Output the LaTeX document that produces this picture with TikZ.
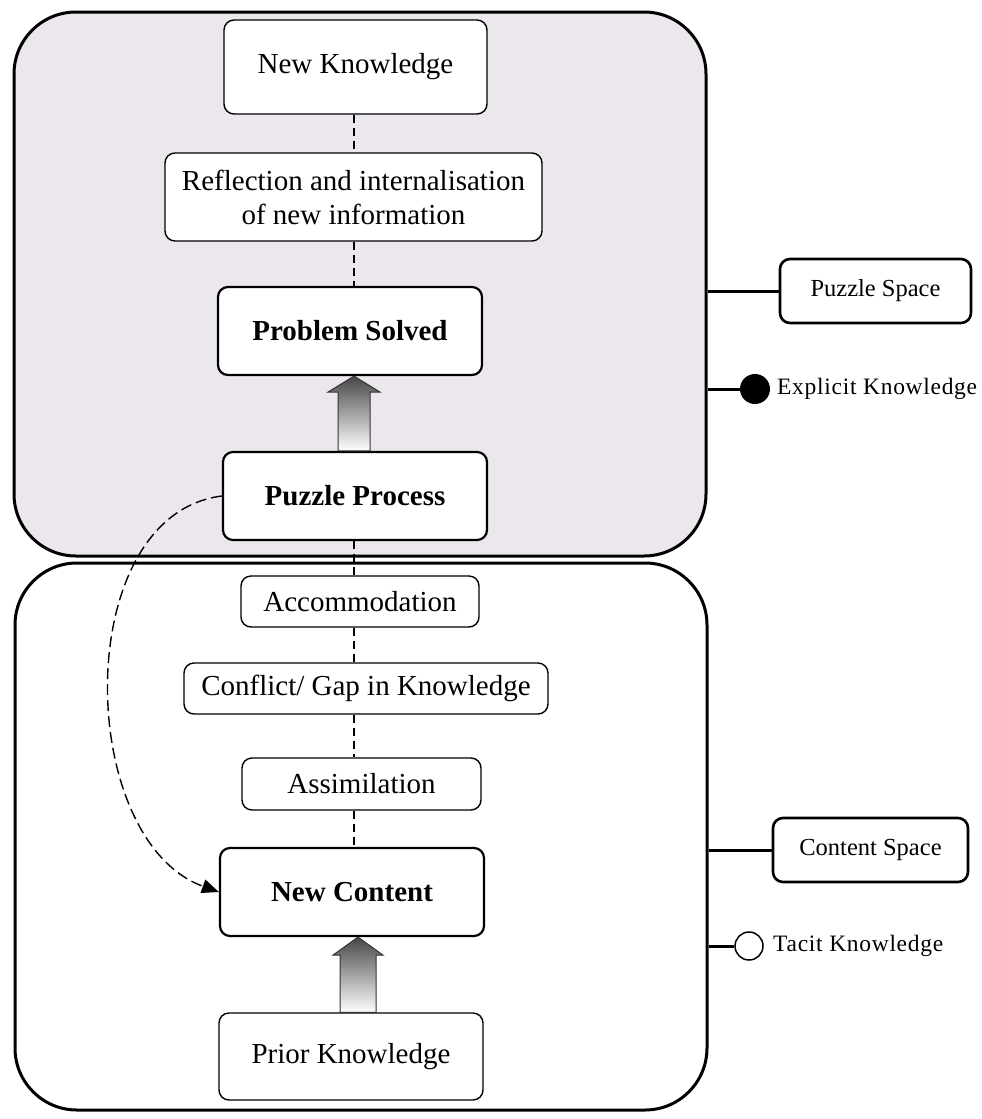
\documentclass[tikz,border=0pt]{standalone}
\usepackage{fontspec}
\setmainfont{Liberation Serif}
\newfontfamily\spacedfont[LetterSpace=3]{Liberation Serif}
\usetikzlibrary{calc,arrows.meta}
\definecolor{puzzlebg}{RGB}{235,231,237}
\newcommand\liftarrow[6]{%
  \path[liftshade] ($(#1 -| #6)+(-#3,0)$) -- ($(#2 -| #6)+(-#3,#5)$) -- ($(#2 -| #6)+(-#4,#5)$) -- (#2 -| #6) -- ($(#2 -| #6)+(#4,#5)$) -- ($(#2 -| #6)+(#3,#5)$) -- ($(#1 -| #6)+(#3,0)$) -- cycle;}
\begin{document}
\begin{tikzpicture}[x=1pt,y=-1pt,
  spacebox/.style={draw, line width=3pt, rounded corners=62pt, inner sep=0pt},
  stage/.style={draw, fill=white, line width=1.4pt, rounded corners=10pt, align=center, inner sep=0pt, font=\fontsize{29}{34}\selectfont},
  keystage/.style={stage, line width=2.2pt, font=\fontsize{29}{34}\selectfont\bfseries},
  legendbox/.style={draw, fill=white, line width=2.6pt, rounded corners=10pt, inner sep=0pt, font=\fontsize{24.5}{28}\selectfont},
  legendtext/.style={anchor=west, inner sep=0pt, font=\fontsize{23.5}{27}\spacedfont},
  link/.style={line width=1.4pt, dash pattern=on 8pt off 5pt},
  curvelink/.style={line width=1.4pt, dash pattern=on 11pt off 5pt},
  legendline/.style={line width=3pt},
  liftshade/.style={draw=black!80, line width=1pt, top color=black!72, bottom color=white}
]
\useasboundingbox (0,0) rectangle (982,1119);
\coordinate (spine) at (354,0);
\coordinate (spineb) at (358,0);

% spaces
\node[spacebox, fill=puzzlebg, minimum width=692pt, minimum height=544pt] (puzzle) at (360,284) {};
\node[spacebox, fill=white, minimum width=692pt, minimum height=547pt] (content) at (361,836.5) {};

% stages
\node[stage, minimum width=263pt, minimum height=94pt] (nk) at (355.5,67) {New Knowledge};
\node[stage, minimum width=377pt, minimum height=88pt] (refl) at (353.5,197) {Reflection and internalisation\\of new information};
\node[keystage, minimum width=264pt, minimum height=88pt] (psolv) at (350,331) {Problem Solved};
\node[keystage, minimum width=264pt, minimum height=88pt] (pp) at (355,496) {Puzzle Process};
\node[stage, minimum width=238pt, minimum height=51pt] (acc) at (360,601.5) {Accommodation};
\node[stage, minimum width=364pt, minimum height=51pt] (conf) at (366,688.5) {Conflict/ Gap in Knowledge};
\node[stage, minimum width=239pt, minimum height=52pt] (assim) at (361.5,784) {Assimilation};
\node[keystage, minimum width=264pt, minimum height=88pt] (nc) at (352,892) {New Content};
\node[stage, minimum width=264pt, minimum height=87pt] (prior) at (351,1056.5) {Prior Knowledge};

% dashed links
\draw[link] (nk.south -| spine) -- (refl.north -| spine);
\draw[link] (refl.south -| spine) -- (psolv.north -| spine);
\draw[link] (pp.south -| spine) -- (acc.north -| spine);
\draw[link] (acc.south -| spine) -- (conf.north -| spine);
\draw[link] (conf.south -| spine) -- (assim.north -| spine);
\draw[link] (assim.south -| spine) -- (nc.north -| spine);

% block arrows
\liftarrow{pp.north}{psolv.south}{16}{26}{16}{spine}
\liftarrow{prior.north}{nc.south}{18}{25}{18}{spineb}

% curved dashed arrow
\draw[curvelink, -{Triangle[length=17pt,width=14pt]}] (pp.west) .. controls (70,515) and (75,840) .. (nc.west);

% legend
\node[legendbox, minimum width=191pt, minimum height=64pt] (pzs) at (875.5,291) {Puzzle Space};
\draw[legendline] (puzzle.east |- pzs.west) -- (pzs.west);
\node[circle, fill=black, minimum size=30pt, inner sep=0pt] (exdot) at (755,389) {};
\draw[legendline] (puzzle.east |- exdot.west) -- (exdot.west);
\node[legendtext] (extext) at (777,389) {Explicit Knowledge};

\node[legendbox, minimum width=195pt, minimum height=64pt] (cts) at (870.5,850) {Content Space};
\draw[legendline] (content.east |- cts.west) -- (cts.west);
\node[circle, draw, line width=1.5pt, fill=white, minimum size=28pt, inner sep=0pt] (tcdot) at (749,946) {};
\draw[legendline] (content.east |- tcdot.west) -- (tcdot.west);
\node[legendtext] (tctext) at (773,946) {Tacit Knowledge};
\end{tikzpicture}
\end{document}
